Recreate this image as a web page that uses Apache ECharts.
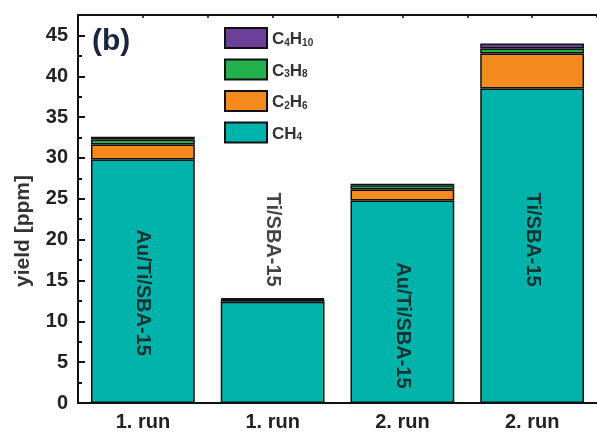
<!DOCTYPE html>
<html>
<head>
<meta charset="utf-8">
<script src="https://cdn.jsdelivr.net/npm/echarts@6/dist/echarts.min.js"></script>
<style>
html,body{margin:0;padding:0;background:#fff;}
#c{width:597px;height:432px;}
</style>
</head>
<body>
<div id="c"></div>
<script>
// ---- data ----
var categories = ['1. run', '1. run', '2. run', '2. run'];
var sampleLabels = ['Au/Ti/SBA-15', 'Ti/SBA-15', 'Au/Ti/SBA-15', 'Ti/SBA-15'];
var sampleLabelY = [13.5, 20, 9.5, 20];
var ch4 = [29.8, 12.4, 24.8, 38.5];
var c2h6 = [1.85, 0.2, 1.35, 4.3];
var c3h8 = [0.6, 0.1, 0.5, 0.6];
var c4h10 = [0.35, 0.1, 0.2, 0.6];
var seriesNames = ['CH4', 'C2H6', 'C3H8', 'C4H10'];
var legendRich = {
  'CH4': '{n|CH}{s|4}',
  'C2H6': '{n|C}{s|2}{n|H}{s|6}',
  'C3H8': '{n|C}{s|3}{n|H}{s|8}',
  'C4H10': '{n|C}{s|4}{n|H}{s|10}'
};
var colors = ['#00b3aa', '#f58a1f', '#22b14c', '#6c3f99'];

var FONT = '"Liberation Sans", Arial, sans-serif';
var chart = echarts.init(document.getElementById('c'), null, {renderer: 'canvas'});

function barSeries(name, data, color) {
  return {
    name: name, type: 'bar', stack: 'total', data: data,
    barWidth: '80%', xAxisIndex: 0, yAxisIndex: 0,
    itemStyle: {color: color, borderColor: '#111', borderWidth: 1.5},
    emphasis: {disabled: true}
  };
}

var labelData = sampleLabelY.map(function (v, i) { return [i, v]; });

var option = {
  animation: false,
  textStyle: {fontFamily: FONT},
  grid: {left: 78, top: 15, right: -6, bottom: 29},
  legend: {
    orient: 'vertical', left: 219, top: 22,
    itemWidth: 42, itemHeight: 20, itemGap: 9.5,
    icon: 'rect',
    data: ['C4H10', 'C3H8', 'C2H6', 'CH4'],
    formatter: function (n) { return legendRich[n]; },
    itemStyle: {borderColor: '#111', borderWidth: 2},
    textStyle: {
      rich: {
        n: {fontFamily: FONT, fontSize: 17, fontWeight: 'bold', color: '#333', lineHeight: 20, verticalAlign: 'bottom'},
        s: {fontFamily: FONT, fontSize: 10, fontWeight: 'bold', color: '#333', lineHeight: 14, verticalAlign: 'bottom'}
      }
    }
  },
  graphic: [{
    type: 'text', left: 92, top: 27,
    style: {text: '(b)', font: 'bold 30px ' + FONT, fill: '#1c2540'}
  }],
  xAxis: [
    {
      type: 'category', data: categories, position: 'bottom',
      axisLine: {lineStyle: {color: '#111', width: 2}},
      axisTick: {alignWithLabel: true, inside: true, length: 6, lineStyle: {color: '#111', width: 2}},
      axisLabel: {color: '#222', fontSize: 20, fontWeight: 'bold', fontFamily: FONT, margin: 9},
      splitLine: {show: false}
    },
    {
      type: 'category', data: categories, position: 'bottom',
      axisLine: {show: false},
      axisTick: {inside: true, length: 3, lineStyle: {color: '#111', width: 2}},
      axisLabel: {show: false},
      splitLine: {show: false}
    },
    {
      type: 'value', min: 0, max: 8, interval: 1, position: 'top',
      axisLine: {show: true, lineStyle: {color: '#111', width: 2}},
      axisTick: {show: true, inside: true, length: 3, lineStyle: {color: '#111', width: 1.5}},
      axisLabel: {show: false},
      splitLine: {show: false}
    }
  ],
  yAxis: [
    {
      type: 'value', min: 0, max: 47.5, interval: 5, position: 'left',
      name: 'yield [ppm]', nameLocation: 'middle', nameGap: 44,
      nameTextStyle: {fontSize: 21, fontWeight: 'bold', color: '#333', fontFamily: FONT, padding: [0, 44, 0, 0]},
      axisLine: {show: true, lineStyle: {color: '#111', width: 2}},
      axisTick: {show: true, inside: true, length: 7, lineStyle: {color: '#111', width: 2}},
      axisLabel: {color: '#222', fontSize: 20, fontWeight: 'bold', fontFamily: FONT, margin: 10, showMaxLabel: false},
      splitLine: {show: false}
    },
    {
      type: 'value', min: 0, max: 47.5, interval: 2.5, position: 'left',
      axisLine: {show: false},
      axisTick: {show: true, inside: true, length: 4, lineStyle: {color: '#111', width: 2}},
      axisLabel: {show: false},
      splitLine: {show: false}
    }
  ],
  series: [
    barSeries(seriesNames[0], ch4, colors[0]),
    barSeries(seriesNames[1], c2h6, colors[1]),
    barSeries(seriesNames[2], c3h8, colors[2]),
    barSeries(seriesNames[3], c4h10, colors[3]),
    {
      type: 'scatter', data: labelData, symbolSize: 0, xAxisIndex: 0, yAxisIndex: 0, z: 10,
      silent: true,
      label: {
        show: true, position: 'inside', rotate: -90,
        formatter: function (p) { return sampleLabels[p.dataIndex]; },
        fontSize: 20, fontWeight: 'bold', color: '#141414', fontFamily: FONT
      }
    }
  ]
};
chart.setOption(option);
</script>
</body>
</html>
